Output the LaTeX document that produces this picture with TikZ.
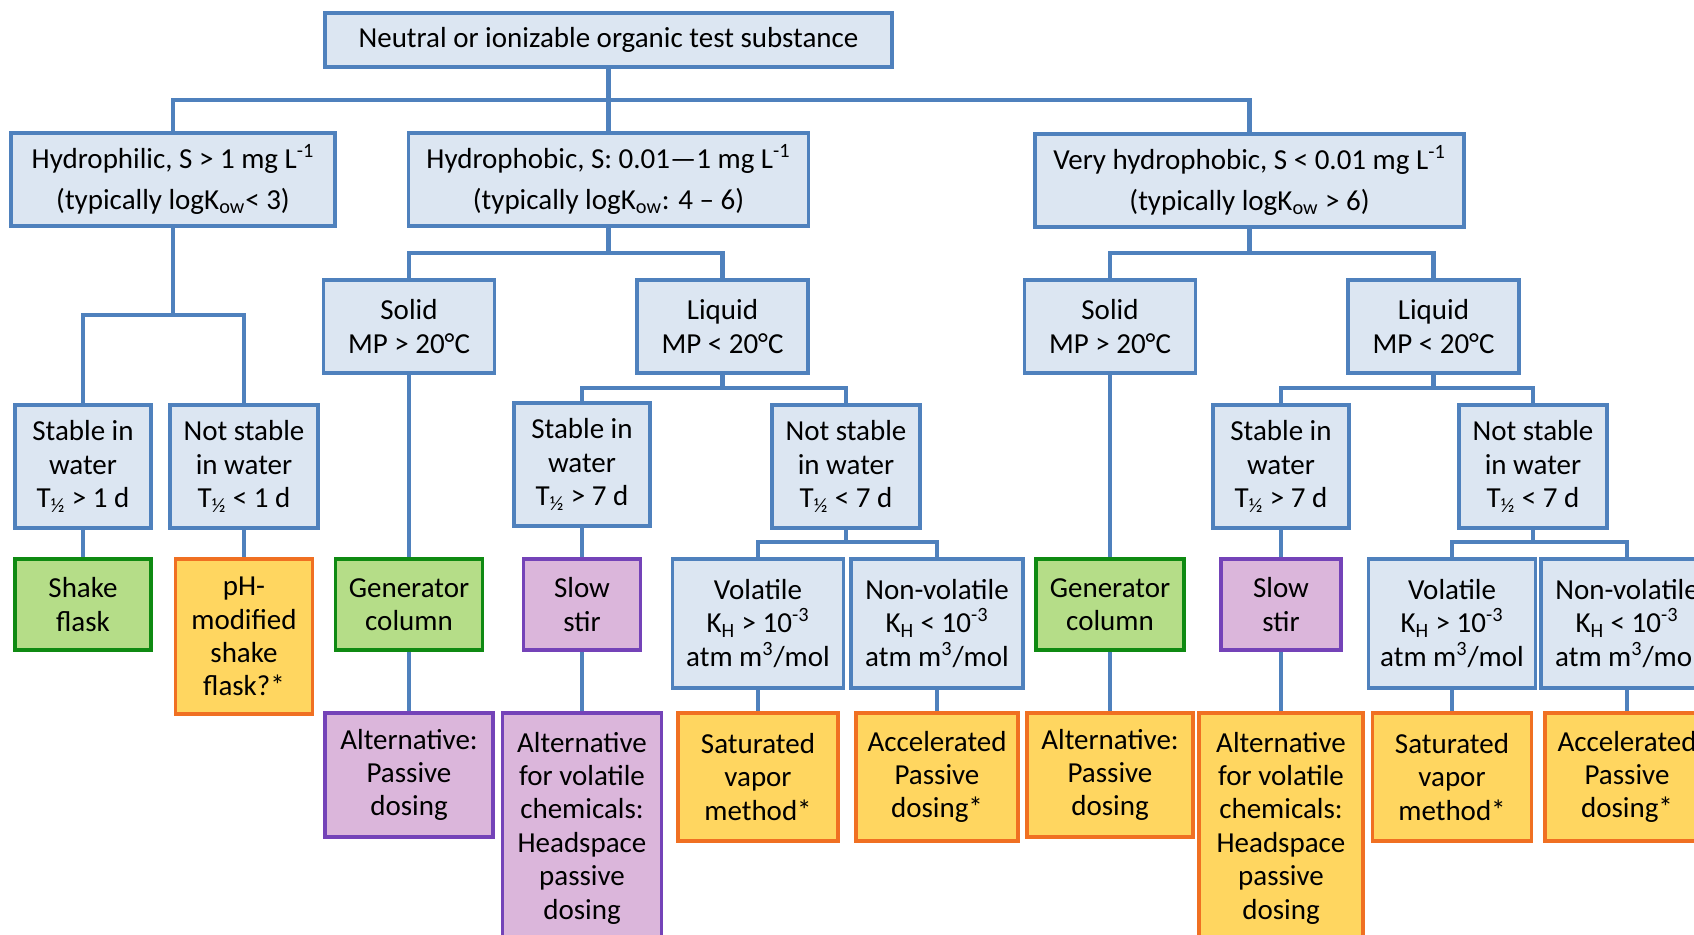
\documentclass[tikz,border=0pt]{standalone}
\usepackage{fontspec}
\setmainfont{Carlito}
\usepackage{xcolor}
\usepackage{tikz}

\definecolor{fillblue}{HTML}{DCE6F2}
\definecolor{lineblue}{HTML}{4F81BD}
\definecolor{fillgreen}{HTML}{B5DD88}
\definecolor{linegreen}{HTML}{0F8A12}
\definecolor{fillorange}{HTML}{FFD660}
\definecolor{lineorange}{HTML}{F07022}
\definecolor{fillpurple}{HTML}{DBB6DB}
\definecolor{linepurple}{HTML}{7443B8}

\begin{document}
\begin{tikzpicture}[x=0.02cm, y=-0.02cm,
  base/.style={draw, line width=2.2pt, align=center, inner sep=2pt,
    font=\fontsize{16.5}{19}\selectfont},
  sz/.style 2 args={minimum width=#1*0.02cm, minimum height=#2*0.02cm},
  blueb/.style={base, fill=fillblue, draw=lineblue},
  greenb/.style={base, fill=fillgreen, draw=linegreen},
  orangeb/.style={base, fill=fillorange, draw=lineorange},
  purpleb/.style={base, fill=fillpurple, draw=linepurple},
  conn/.style={draw=lineblue, line width=2.6pt}]
 \useasboundingbox (0,0) rectangle (1694,935);
 \clip (0,0) rectangle (1694,935);

 % levels of the horizontal bars
 \coordinate (lvA) at (0,100);
 \coordinate (lvB) at (0,253);
 \coordinate (lvC) at (0,315);
 \coordinate (lvD) at (0,388);
 \coordinate (lvE) at (0,542);

 % top rows
 \node [blueb, sz={567}{54}] (root) at (608.5,40) {Neutral or ionizable organic test substance};
 \node [blueb, sz={324}{93}] (hphil) at (173,179.5) {Hydrophilic, S > 1 mg L\textsuperscript{-1}\\[4pt](typically logK\textsubscript{ow}< 3)};
 \node [blueb, sz={400}{93}] (hphob) at (608.5,179.5) {Hydrophobic, S: 0.01—1 mg L\textsuperscript{-1}\\[4pt](typically logK\textsubscript{ow}: 4 – 6)};
 \node [blueb, sz={429}{93}] (vhphob) at (1249.5,180.5) {Very hydrophobic, S < 0.01 mg L\textsuperscript{-1}\\[4pt](typically logK\textsubscript{ow} > 6)};

 \node [blueb, sz={171}{93}] (solid1) at (409,326.5) {Solid\\MP > 20°C};
 \node [blueb, sz={171}{93}] (liquid1) at (722.5,326.5) {Liquid\\MP < 20°C};
 \node [blueb, sz={171}{93}] (solid2) at (1110,326.5) {Solid\\MP > 20°C};
 \node [blueb, sz={171}{93}] (liquid2) at (1433.5,326.5) {Liquid\\MP < 20°C};

 % stability
 \node [blueb, sz={136}{123}] (stab1) at (83,466.5) {Stable in\\water\\T\textsubscript{½} > 1 d};
 \node [blueb, sz={148}{123}] (nstab1) at (244,466.5) {Not stable\\in water\\T\textsubscript{½} < 1 d};
 \node [blueb, sz={136}{123}] (stab2) at (582,464.5) {Stable in\\water\\T\textsubscript{½} > 7 d};
 \node [blueb, sz={148}{123}] (nstab2) at (846,466.5) {Not stable\\in water\\T\textsubscript{½} < 7 d};
 \node [blueb, sz={136}{123}] (stab3) at (1281,466.5) {Stable in\\water\\T\textsubscript{½} > 7 d};
 \node [blueb, sz={148}{123}] (nstab3) at (1533,466.5) {Not stable\\in water\\T\textsubscript{½} < 7 d};

 % methods
 \node [greenb, sz={136}{91}] (shake) at (83,604.5) {Shake\\flask};
 \node [orangeb, sz={137}{155}] (phmod) at (244,636.5) {pH-\\modified\\shake\\flask?*};
 \node [greenb, sz={147}{91}] (gen1) at (409,604.5) {Generator\\column};
 \node [purpleb, sz={117}{91}] (slow1) at (582,604.5) {Slow\\stir};
 \node [blueb, sz={171}{129}] (vol1) at (758,623.5) {Volatile\\K\textsubscript{H} > 10\textsuperscript{-3}\\atm m\textsuperscript{3}/mol};
 \node [blueb, sz={172}{129}] (nvol1) at (937,623.5) {Non-volatile\\K\textsubscript{H} < 10\textsuperscript{-3}\\atm m\textsuperscript{3}/mol};
 \node [greenb, sz={148}{91}] (gen2) at (1110,604.5) {Generator\\column};
 \node [purpleb, sz={120}{91}] (slow2) at (1281,604.5) {Slow\\stir};
 \node [blueb, sz={167}{129}] (vol2) at (1452,623.5) {Volatile\\K\textsubscript{H} > 10\textsuperscript{-3}\\atm m\textsuperscript{3}/mol};
 \node [blueb, sz={172}{129}] (nvol2) at (1627,623.5) {Non-volatile\\K\textsubscript{H} < 10\textsuperscript{-3}\\atm m\textsuperscript{3}/mol};

 % alternatives
 \node [purpleb, sz={168}{124}] (alt1) at (409,775) {Alternative:\\Passive\\dosing};
 \node [purpleb, sz={159}{230}] (altv1) at (582,828) {Alternative\\for volatile\\chemicals:\\Headspace\\passive\\dosing};
 \node [orangeb, sz={160}{128}] (sat1) at (758,777) {Saturated\\vapor\\method*};
 \node [orangeb, sz={162}{128}] (acc1) at (937,777) {Accelerated\\Passive\\dosing*};
 \node [orangeb, sz={166}{124}] (alt2) at (1110,775) {Alternative:\\Passive\\dosing};
 \node [orangeb, sz={164}{230}] (altv2) at (1281,828) {Alternative\\for volatile\\chemicals:\\Headspace\\passive\\dosing};
 \node [orangeb, sz={159}{128}] (sat2) at (1452,777) {Saturated\\vapor\\method*};
 \node [orangeb, sz={164}{128}] (acc2) at (1627,777) {Accelerated\\Passive\\dosing*};

 % connectors
 \draw [conn] (root.south) -- (hphob.north);
 \draw [conn] (hphil.north) |- (vhphob.north |- lvA) -- (vhphob.north);

 \draw [conn] (hphil.south) -- (hphil.south |- lvC);
 \draw [conn] (stab1.north) |- (nstab1.north |- lvC) -- (nstab1.north);
 \draw [conn] (stab1.south) -- (shake.north);
 \draw [conn] (nstab1.south) -- (phmod.north);

 \draw [conn] (hphob.south) -- (hphob.south |- lvB);
 \draw [conn] (solid1.north) |- (liquid1.north |- lvB) -- (liquid1.north);
 \draw [conn] (solid1.south) -- (gen1.north);
 \draw [conn] (gen1.south) -- (alt1.north);
 \draw [conn] (liquid1.south) -- (liquid1.south |- lvD);
 \draw [conn] (stab2.north) |- (nstab2.north |- lvD) -- (nstab2.north);
 \draw [conn] (stab2.south) -- (slow1.north);
 \draw [conn] (slow1.south) -- (altv1.north);
 \draw [conn] (nstab2.south) -- (nstab2.south |- lvE);
 \draw [conn] (vol1.north) |- (nvol1.north |- lvE) -- (nvol1.north);
 \draw [conn] (vol1.south) -- (sat1.north);
 \draw [conn] (nvol1.south) -- (acc1.north);

 \draw [conn] (vhphob.south) -- (vhphob.south |- lvB);
 \draw [conn] (solid2.north) |- (liquid2.north |- lvB) -- (liquid2.north);
 \draw [conn] (solid2.south) -- (gen2.north);
 \draw [conn] (gen2.south) -- (alt2.north);
 \draw [conn] (liquid2.south) -- (liquid2.south |- lvD);
 \draw [conn] (stab3.north) |- (nstab3.north |- lvD) -- (nstab3.north);
 \draw [conn] (stab3.south) -- (slow2.north);
 \draw [conn] (slow2.south) -- (altv2.north);
 \draw [conn] (nstab3.south) -- (nstab3.south |- lvE);
 \draw [conn] (vol2.north) |- (nvol2.north |- lvE) -- (nvol2.north);
 \draw [conn] (vol2.south) -- (sat2.north);
 \draw [conn] (nvol2.south) -- (acc2.north);
\end{tikzpicture}
\end{document}
